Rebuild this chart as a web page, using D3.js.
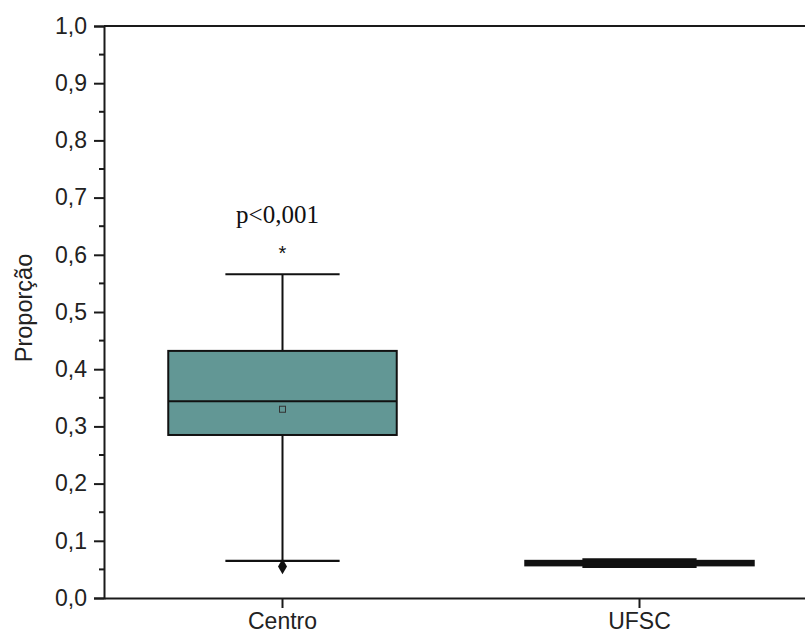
<!DOCTYPE html>
<html>
<head>
<meta charset="utf-8">
<script src="https://cdn.jsdelivr.net/npm/d3@7"></script>
<style>
  body { margin: 0; background: #fff; }
  svg { display: block; }
</style>
</head>
<body>
<svg width="805" height="639"></svg>
<script>
// box chart values
var categories = ['Centro', 'UFSC'];
var q1 = [0.285, 0.057];
var median = [0.344, 0.061];
var q3 = [0.432, 0.065];
var whiskerLow = [0.065, 0.0545];
var whiskerHigh = [0.566, 0.0675];
var means = [0.330, 0.061];
var outliersHigh = [0.608, null];
var outliersLow = [0.055, null];
var yTicks = [0, 0.1, 0.2, 0.3, 0.4, 0.5, 0.6, 0.7, 0.8, 0.9, 1.0];
var yMinor = [0.05, 0.15, 0.25, 0.35, 0.45, 0.55, 0.65, 0.75, 0.85, 0.95];

var boxes = categories.map(function (c, i) {
  return { name: c, q1: q1[i], med: median[i], q3: q3[i], lo: whiskerLow[i],
           hi: whiskerHigh[i], mean: means[i], outHi: outliersHigh[i], outLo: outliersLow[i] };
});

var svg = d3.select('svg');
var plotL = 104, plotR = 818, plotT = 26, plotB = 598;

var x = d3.scaleBand()
  .domain(categories)
  .range([plotL, plotR]);

var y = d3.scaleLinear()
  .domain([0, 1])
  .range([plotB, plotT]);

var fmt = function (d) { return d3.format('.1f')(d).replace('.', ','); };

// frame (top/right edge)
svg.append('line')
  .attr('x1', plotL).attr('x2', plotR)
  .attr('y1', plotT).attr('y2', plotT)
  .attr('stroke', '#1a1a1a').attr('stroke-width', 2);
svg.append('line')
  .attr('x1', plotR).attr('x2', plotR)
  .attr('y1', plotT).attr('y2', plotB)
  .attr('stroke', '#1a1a1a').attr('stroke-width', 2);

// y axis
var yAxis = svg.append('g')
  .attr('transform', 'translate(' + plotL + ',0)')
  .call(d3.axisLeft(y).tickValues(yTicks).tickFormat(fmt).tickSize(10).tickPadding(7));
yAxis.selectAll('text')
  .style('font-family', 'Liberation Sans, Arial, sans-serif')
  .style('font-size', '23px')
  .attr('fill', '#222');

yAxis.selectAll('.minor')
  .data(yMinor)
  .enter().append('line')
  .attr('class', 'minor')
  .attr('x1', -5).attr('x2', 0)
  .attr('y1', function (d) { return y(d); })
  .attr('y2', function (d) { return y(d); })
  .attr('stroke', '#1a1a1a').attr('stroke-width', 2);

// x axis
var xAxis = svg.append('g')
  .attr('transform', 'translate(0,' + plotB + ')')
  .call(d3.axisBottom(x).tickSize(10).tickPadding(5).tickSizeOuter(0));
xAxis.selectAll('text')
  .style('font-family', 'Liberation Sans, Arial, sans-serif')
  .style('font-size', '23px')
  .attr('fill', '#222');

svg.selectAll('.domain').attr('stroke', '#1a1a1a').attr('stroke-width', 2);
svg.selectAll('.tick line').attr('stroke', '#1a1a1a').attr('stroke-width', 2);

// y label
svg.append('text')
  .attr('transform', 'translate(32,' + ((plotT + plotB) / 2 - 4) + ') rotate(-90)')
  .attr('text-anchor', 'middle')
  .style('font-family', 'Liberation Sans, Arial, sans-serif')
  .style('font-size', '23.5px')
  .attr('fill', '#222')
  .text('Proporção');

// boxes
var bw = x.bandwidth() * 0.64;
var cw = x.bandwidth() * 0.32;

var g = svg.selectAll('.box')
  .data(boxes)
  .enter().append('g')
  .attr('class', 'box');

function cx(d) { return x(d.name) + x.bandwidth() / 2; }

// whisker stems
g.append('line')
  .attr('x1', cx).attr('x2', cx)
  .attr('y1', function (d) { return y(d.lo); })
  .attr('y2', function (d) { return y(d.hi); })
  .attr('stroke', '#111').attr('stroke-width', 2);

// caps
['lo', 'hi'].forEach(function (k) {
  g.append('line')
    .attr('x1', function (d) { return cx(d) - cw / 2; })
    .attr('x2', function (d) { return cx(d) + cw / 2; })
    .attr('y1', function (d) { return y(d[k]); })
    .attr('y2', function (d) { return y(d[k]); })
    .attr('stroke', '#111').attr('stroke-width', 2.2);
});

g.append('rect')
  .attr('x', function (d) { return cx(d) - bw / 2; })
  .attr('width', bw)
  .attr('y', function (d) { return y(d.q3); })
  .attr('height', function (d) { return y(d.q1) - y(d.q3); })
  .attr('fill', function (d) { return d.name === 'UFSC' ? '#111' : '#629795'; })
  .attr('stroke', '#111').attr('stroke-width', 2);

g.append('line')
  .attr('x1', function (d) { return cx(d) - bw / 2; })
  .attr('x2', function (d) { return cx(d) + bw / 2; })
  .attr('y1', function (d) { return y(d.med); })
  .attr('y2', function (d) { return y(d.med); })
  .attr('stroke', '#111').attr('stroke-width', 2);

// mean marker
g.filter(function (d) { return d.name === 'Centro'; })
  .append('rect')
  .attr('x', function (d) { return cx(d) - 3; })
  .attr('y', function (d) { return y(d.mean) - 3; })
  .attr('width', 6).attr('height', 6)
  .attr('fill', 'none')
  .attr('stroke', '#333').attr('stroke-width', 1);

// outliers
g.filter(function (d) { return d.outHi != null; })
  .append('text')
  .attr('x', cx)
  .attr('y', function (d) { return y(d.outHi) + 10; })
  .attr('text-anchor', 'middle')
  .style('font-family', 'Liberation Sans, Arial, sans-serif')
  .style('font-size', '20px')
  .attr('fill', '#111')
  .text('*');

g.filter(function (d) { return d.outLo != null; })
  .append('path')
  .attr('transform', function (d) { return 'translate(' + cx(d) + ',' + y(d.outLo) + ')'; })
  .attr('d', d3.symbol().type(d3.symbolDiamond).size(70))
  .attr('fill', '#111');

// significance label
svg.append('text')
  .attr('x', x('Centro') + x.bandwidth() / 2 - 5)
  .attr('y', 223)
  .attr('text-anchor', 'middle')
  .style('font-family', 'Liberation Serif, Times New Roman, serif')
  .style('font-size', '25px')
  .attr('fill', '#111')
  .text('p<0,001');
</script>
</body>
</html>
